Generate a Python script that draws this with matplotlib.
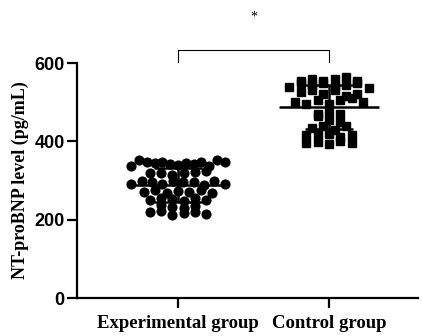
import numpy as np
import matplotlib
matplotlib.use('Agg')
import matplotlib.pyplot as plt

groups = ['Experimental group', 'Control group']
experimental = [338, 352, 347, 345, 348, 343, 340, 344, 342, 347, 336, 353, 346,
                318, 320, 315, 318, 322, 325,
                290, 300, 295, 290, 300, 297, 296, 288, 300, 290,
                270, 275, 268, 272, 270, 275, 268,
                250, 255, 252, 248, 255, 250,
                238, 232, 230, 235,
                220, 222, 212, 218, 220, 214]
control = [540, 548, 555, 560, 545, 550, 555, 560, 565, 555, 540, 545, 550,
           525, 530, 520, 535, 530,
           500, 495, 505, 495, 505, 510, 515, 520, 500,
           470, 475, 465, 470,
           455, 450,
           435, 440, 430, 438,
           415, 420, 418, 412, 415,
           395, 398, 392, 400, 395]
yticks = [0, 200, 400, 600]

serif = 'Liberation Serif'
sans = 'Liberation Sans'

fig = plt.figure(figsize=(4.22, 3.36), dpi=100)
ax = fig.add_axes([0.1825, 0.113, 0.8075, 0.6995])
ax.set_xlim(-0.669, 1.589)
ax.set_ylim(0, 600)


def row_offsets(vals, row_h=18, step=0.075, half=0.31):
    # GraphPad-like scatter: group close values into rows, spread each row evenly
    vals = np.asarray(vals, dtype=float)
    order = np.argsort(vals, kind='stable')
    offs = np.zeros(len(vals))
    rows = []
    for i in order:
        if rows and vals[i] < vals[rows[-1][0]] + row_h:
            rows[-1].append(i)
        else:
            rows.append([i])
    for r in rows:
        r = sorted(r)
        n = len(r)
        st = step if n < 2 else min(step, 2 * half / (n - 1))
        for k, i in enumerate(r):
            offs[i] = (k - (n - 1) / 2) * st
    return offs


for pos, vals, mk, ms in [(0, experimental, 'o', 6.3), (1, control, 's', 6.4)]:
    offs = row_offsets(vals)
    ax.plot(pos + offs, vals, mk, color='black', markersize=ms, linestyle='none', zorder=3)
    m = np.mean(vals)
    sd = np.std(vals, ddof=1)
    ax.hlines(m, pos - 0.33, pos + 0.33, color='black', lw=1.8, zorder=4)
    ax.vlines(pos, m - sd, m + sd, color='black', lw=1.8, zorder=4)
    ax.hlines([m - sd, m + sd], pos - 0.16, pos + 0.16, color='black', lw=1.8, zorder=4)

# significance bracket
ax.plot([0, 0, 1, 1], [602, 633, 633, 602], color='black', lw=0.8, clip_on=False)
ax.text(0.5, 718, '*', ha='center', va='center', fontsize=10, family=serif)

for s in ['top', 'right']:
    ax.spines[s].set_visible(False)
ax.spines['left'].set_linewidth(1.6)
ax.spines['bottom'].set_linewidth(1.6)
ax.spines['left'].set_bounds(0, 600)
ax.set_yticks(yticks)
ax.set_yticklabels([str(t) for t in yticks], fontsize=13, fontweight='bold', family=sans)
ax.set_xticks([0, 1])
ax.set_xticklabels(groups, fontsize=13.5, fontweight='bold', family=serif)
ax.tick_params(axis='both', width=1.6, length=7.5, color='black')
ax.tick_params(axis='y', pad=1.5)
ax.tick_params(axis='x', pad=4.5)
ax.set_ylabel('NT-proBNP level (pg/mL)', fontsize=13, fontweight='bold', family=serif, labelpad=4)

fig.savefig('out.png', dpi=100)
